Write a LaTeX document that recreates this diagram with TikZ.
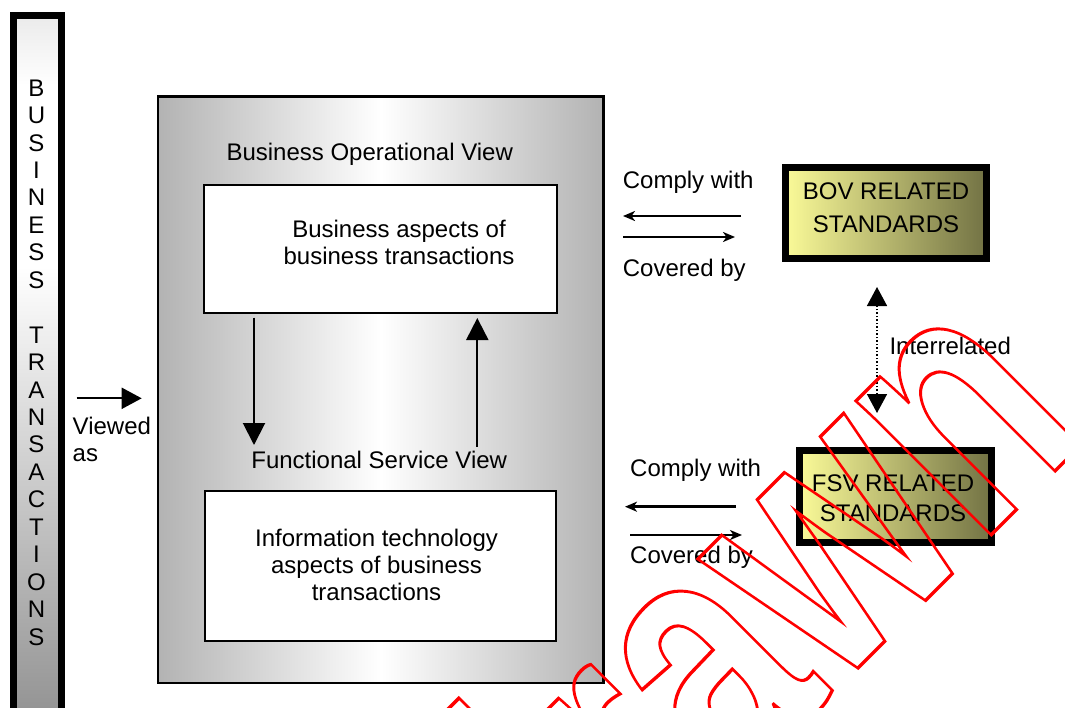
\documentclass[tikz,border=0pt]{standalone}
\usepackage{fontspec}
\setmainfont{Liberation Sans}
\usetikzlibrary{arrows.meta}
\pgfdeclareverticalshading{barshade}{100bp}{color(0bp)=(black!42); color(25bp)=(black!42); color(57bp)=(white); color(70bp)=(white); color(75bp)=(black!8); color(100bp)=(black!8)}
\definecolor{ylight}{RGB}{250,250,152}
\definecolor{ydark}{RGB}{114,114,68}
\definecolor{wmred}{RGB}{255,0,0}
\begin{document}
\begin{tikzpicture}[x=1pt,y=-1pt,
  lbl/.style={inner sep=0pt, font=\fontsize{24}{27}\selectfont},
  whitebox/.style={draw, line width=2pt, fill=white, inner sep=0pt},
  stdbox/.style={draw, line width=7pt, left color=ylight, right color=ydark, inner sep=0pt},
  bigarrow/.style={line width=2pt, -{Triangle[length=22pt,width=22pt]}},
  thinarrow/.style={line width=2.4pt, -{Stealth[length=12pt,width=10pt,inset=3.5pt]}},
  dotarrow/.style={line width=1.5pt, dash pattern=on 1.5pt off 2pt, {Triangle[length=19pt,width=20pt]}-{Triangle[length=19pt,width=20pt]}}
]
\useasboundingbox (0,0) rectangle (1065,707);
\fill[white] (0,0) rectangle (1065,707);

% left bar
\node (bar) [draw, line width=7pt, shading=barshade, minimum width=48pt, minimum height=697pt, inner sep=0pt] at (37.5,364) {};
\node (letters) [lbl, align=center, font=\fontsize{24}{27.45}\selectfont] at (36.5,362.5) {B\\U\\S\\I\\N\\E\\S\\S\\[27.45pt]T\\R\\A\\N\\S\\A\\C\\T\\I\\O\\N\\S};

% viewed as
\coordinate (v1) at (76.7,398.3);
\coordinate (v2) at (141.7,398.3);
\draw[line width=2pt, -{Triangle[length=20pt,width=21pt]}] (v1) -- (v2);
\node (viewed) [lbl, align=left, anchor=north west] at (72.5,416.8) {Viewed\\as};

% central grey box
\node (outer) [draw, line width=2.7pt, left color=black!30, right color=black!30, middle color=white, minimum width=445.6pt, minimum height=586.7pt, inner sep=0pt] at (380.8,389.7) {};
\node (bovtitle) [lbl, anchor=base] at (369.7,160.7) {Business Operational View};
\node (busbox) [whitebox, minimum width=352.4pt, minimum height=127.7pt] at (380.5,249.2) {};
\node (bustext) [lbl, align=center] at (399,242.1) {Business aspects of\\business transactions};
\node (fsvtitle) [lbl, anchor=base] at (379.2,468.3) {Functional Service View};
\node (itbox) [whitebox, minimum width=351.3pt, minimum height=149.7pt] at (380.7,565.9) {};
\node (ittext) [lbl, align=center] at (376.5,565.3) {Information technology\\aspects of business\\transactions};

\coordinate (d1) at (254,317.7);
\coordinate (d2) at (254,445);
\draw[bigarrow] (d1) -- (d2);
\coordinate (u1) at (477.3,446.7);
\coordinate (u2) at (477.3,318);
\draw[bigarrow] (u1) -- (u2);

% standards boxes
\node (bovstd) [stdbox, minimum width=201pt, minimum height=91pt] at (886,213) {};
\node (bovtext) [lbl, align=center, font=\fontsize{24}{33.3}\selectfont] at (886,208) {BOV RELATED\\STANDARDS};
\node (fsvstd) [stdbox, minimum width=192pt, minimum height=92pt] at (895.5,496.5) {};
\node (fsvtext) [lbl, align=center, font=\fontsize{24}{30}\selectfont] at (893,498.1) {FSV RELATED\\STANDARDS};

% upper relations
\node (comply1) [lbl, anchor=base west] at (622.7,188.3) {Comply with};
\node (cover1) [lbl, anchor=base west] at (622.7,276) {Covered by};
\coordinate (c1s) at (741,216);
\coordinate (c1e) at (623,216);
\draw[thinarrow] (c1s) -- (c1e);
\coordinate (b1s) at (623,237);
\coordinate (b1e) at (735,237);
\draw[thinarrow] (b1s) -- (b1e);

% lower relations
\node (comply2) [lbl, anchor=base west] at (630,476) {Comply with};
\node (cover2) [lbl, anchor=base west] at (630,563.3) {Covered by};
\coordinate (c2s) at (736,506.7);
\coordinate (c2e) at (625,506.7);
\draw[thinarrow, line width=3pt] (c2s) -- (c2e);
\coordinate (b2s) at (630,535);
\coordinate (b2e) at (742,535);
\draw[thinarrow, line width=2pt] (b2s) -- (b2e);

% interrelated
\coordinate (i1) at (877,413);
\coordinate (i2) at (877,287);
\draw[dotarrow] (i1) -- (i2);
\node (interrel) [lbl, anchor=base west] at (889.3,354.3) {Interrelated};

% watermark
\begin{scope}
\clip (0,0) rectangle (1065,707);
\node (wm) [inner sep=0pt, anchor=base west, rotate=45, xscale=0.733, transform shape, text=wmred, font=\fontsize{360}{360}\selectfont\bfseries] at (139.8,1386.2) {\special{pdf:literal 1 Tr 3.4 w}Withdrawn\special{pdf:literal 0 Tr}};
\end{scope}
\end{tikzpicture}
\end{document}
